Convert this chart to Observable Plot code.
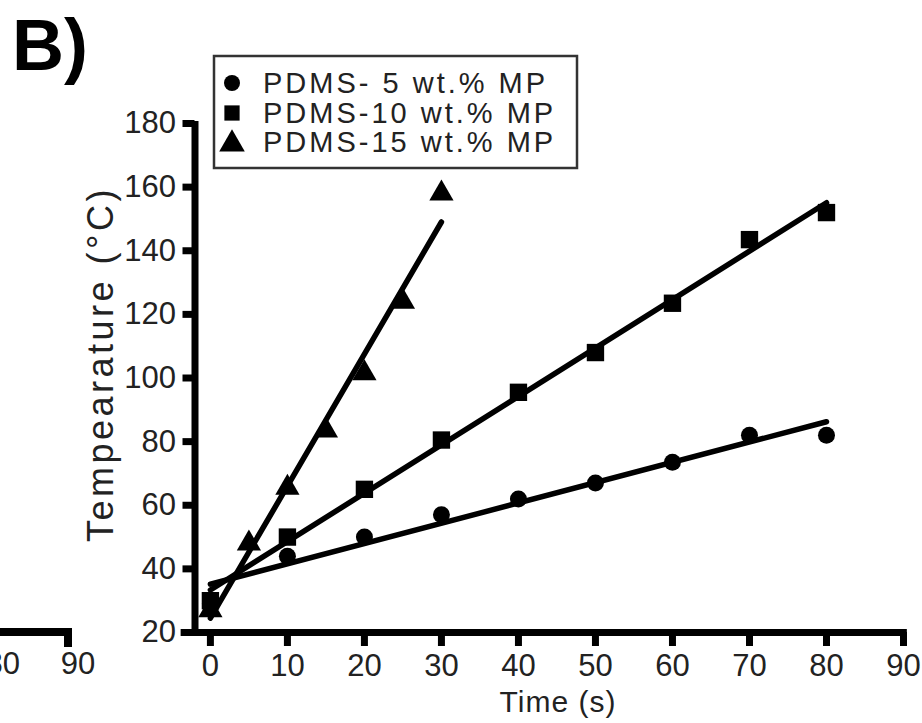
<!DOCTYPE html>
<html>
<head>
<meta charset="utf-8">
<script src="https://cdn.jsdelivr.net/npm/d3@7"></script>
<script src="https://cdn.jsdelivr.net/npm/@observablehq/plot@0.6"></script>
<style>
  html, body { margin: 0; padding: 0; background: #fff; }
  svg { display: block; }
</style>
</head>
<body>
<div id="chart"></div>
<script>
// ---- data ----
const seriesNames = ["PDMS- 5 wt.% MP", "PDMS-10 wt.% MP", "PDMS-15 wt.% MP"];
const seriesSymbols = ["circle", "square", "triangle"];

const time5  = [0, 10, 20, 30, 40, 50, 60, 70, 80];
const temp5  = [29, 44, 50, 57, 62, 67, 73.5, 82, 82];

const time10 = [0, 10, 20, 30, 40, 50, 60, 70, 80];
const temp10 = [30, 50, 65, 80.5, 95.5, 108, 123.5, 143.5, 152];

const time15 = [0, 5, 10, 15, 20, 25, 30];
const temp15 = [27, 48, 65.5, 83.5, 101.5, 124, 158];

const xTicks = [0, 10, 20, 30, 40, 50, 60, 70, 80, 90];
const yTicks = [20, 40, 60, 80, 100, 120, 140, 160, 180];

const xTitle = "Time (s)";
const yTitle = "Tempearature (°C)";
const panelLabel = "B)";
const panelATicks = ["80", "90"];

// ---- build table ----
function rowsOf(times, temps, name) {
  return times.map((t, i) => ({t, T: temps[i], s: name}));
}
const rows5 = rowsOf(time5, temp5, seriesNames[0]);
const rows10 = rowsOf(time10, temp10, seriesNames[1]);
const rows15 = rowsOf(time15, temp15, seriesNames[2]);
const allRows = [...rows5, ...rows10, ...rows15];

const FONT = "'Liberation Sans', Arial, Helvetica, sans-serif";

const svg = Plot.plot({
  width: 922,
  height: 723,
  marginLeft: 194.5,
  marginRight: 19,
  marginTop: 123,
  marginBottom: 91,
  style: {fontFamily: FONT, background: "#fff", overflow: "visible"},
  x: {domain: [-2, 90]},
  y: {domain: [20, 180]},
  symbol: {domain: seriesNames, range: seriesSymbols},
  marks: [
    Plot.axisX({ticks: xTicks, tickSize: 14, tickPadding: 7, fontSize: 31, strokeWidth: 7, stroke: "#000", fill: "#222", label: null}),
    Plot.axisY({ticks: yTicks, tickSize: 12, tickPadding: 7, fontSize: 31, strokeWidth: 7, stroke: "#000", fill: "#222", label: null}),
    Plot.ruleX([-2], {y1: 19.2, y2: 180.6, stroke: "#000", strokeWidth: 7}),
    Plot.ruleY([20], {x1: -3.8, x2: 90.5, stroke: "#000", strokeWidth: 7}),
    Plot.dot(rows5, {x: "t", y: "T", symbol: "s", r: 8.5, fill: "#000", stroke: "none"}),
    Plot.dot(rows10, {x: "t", y: "T", symbol: "s", r: 9.8, fill: "#000", stroke: "none"}),
    Plot.dot(rows15, {x: "t", y: "T", symbol: "s", r: 9, fill: "#000", stroke: "none"}),
    Plot.linearRegressionY(allRows, {x: "t", y: "T", z: "s", ci: 0, stroke: "#000", strokeWidth: 5.5})
  ]
});

const g = d3.select(svg);

// panel label
g.append("text")
  .attr("x", 12).attr("y", 70)
  .attr("text-anchor", "start")
  .attr("font-family", FONT).attr("font-size", 72).attr("font-weight", "bold")
  .attr("fill", "#000")
  .text(panelLabel);

// axis titles
g.append("text")
  .attr("x", 558).attr("y", 712)
  .attr("text-anchor", "middle")
  .attr("font-family", FONT).attr("font-size", 30).attr("letter-spacing", 1)
  .attr("fill", "#222")
  .text(xTitle);

g.append("text")
  .attr("transform", "translate(113,364) rotate(-90)")
  .attr("text-anchor", "middle")
  .attr("font-family", FONT).attr("font-size", 36).attr("letter-spacing", 3.5)
  .attr("fill", "#222")
  .text(yTitle);

// legend
const leg = g.append("g").attr("text-anchor", "start");
leg.append("rect")
  .attr("x", 214).attr("y", 56).attr("width", 363).attr("height", 112)
  .attr("fill", "#fff").attr("stroke", "#333").attr("stroke-width", 2.5);
const legY = [83, 113, 144];
const legBase = [93, 122.5, 152];
const symSizes = [Math.PI * 8 * 8, Math.PI * 8.6 * 8.6, Math.PI * 9.5 * 9.5];
const d3Syms = {circle: d3.symbolCircle, square: d3.symbolSquare, triangle: d3.symbolTriangle};
seriesNames.forEach((name, i) => {
  leg.append("path")
    .attr("transform", `translate(232,${legY[i]})`)
    .attr("d", d3.symbol(d3Syms[seriesSymbols[i]], symSizes[i])())
    .attr("fill", "#000");
  leg.append("text")
    .attr("x", 263).attr("y", legBase[i])
    .attr("text-anchor", "start")
    .attr("font-family", FONT).attr("font-size", 29).attr("letter-spacing", 3)
    .attr("fill", "#222")
    .style("white-space", "pre")
    .attr("xml:space", "preserve")
    .text(name);
});

// remnants of the neighbouring panel A
g.append("line").attr("x1", 0).attr("x2", 72).attr("y1", 632).attr("y2", 632)
  .attr("stroke", "#000").attr("stroke-width", 8);
g.append("line").attr("x1", 68).attr("x2", 68).attr("y1", 632).attr("y2", 647)
  .attr("stroke", "#000").attr("stroke-width", 8);
g.append("text").attr("x", 20).attr("y", 674).attr("text-anchor", "end")
  .attr("font-family", FONT).attr("font-size", 31).attr("fill", "#222").text(panelATicks[0]);
g.append("text").attr("x", 78).attr("y", 674).attr("text-anchor", "middle")
  .attr("font-family", FONT).attr("font-size", 31).attr("fill", "#222").text(panelATicks[1]);

document.getElementById("chart").appendChild(svg);
</script>
</body>
</html>
